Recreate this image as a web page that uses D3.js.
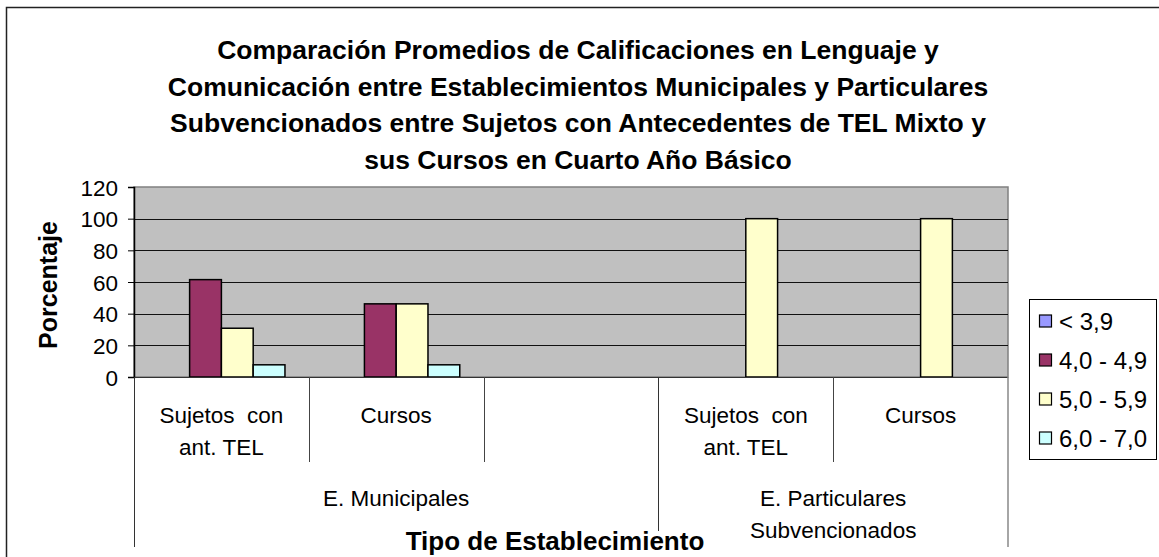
<!DOCTYPE html>
<html>
<head>
<meta charset="utf-8">
<script src="https://cdn.jsdelivr.net/npm/d3@7"></script>
<style>
  body { margin: 0; background: #fff; }
  text { font-family: Arial, "Liberation Sans", sans-serif; fill: #000; }
</style>
</head>
<body>
<svg id="chart" width="1159" height="557"></svg>
<script>
//chart data
var titleLines = ["Comparación Promedios de Calificaciones en Lenguaje y",
  "Comunicación entre Establecimientos Municipales y Particulares",
  "Subvencionados entre Sujetos con Antecedentes de TEL Mixto y",
  "sus Cursos en Cuarto Año Básico"];
//sub categories (one empty slot between the two groups)
var categories = [["Sujetos  con", "ant. TEL"], ["Cursos"], [""], ["Sujetos  con", "ant. TEL"], ["Cursos"]];
//outer categories and how many slots each covers
var groupNames = [["E. Municipales"], ["E. Particulares", "Subvencionados"]];
var groupSpans = [3, 2];
var seriesNames = ["< 3,9", "4,0 - 4,9", "5,0 - 5,9", "6,0 - 7,0"];
var seriesColors = ["#9999FF", "#993366", "#FFFFCC", "#CCFFFF"];
//percent values per series
var valuesLow = [0, 0, null, 0, 0];
var values40 = [61.5, 46.2, null, 0, 0];
var values50 = [30.8, 46.2, null, 100, 100];
var values60 = [7.7, 7.7, null, 0, 0];
var yTicks = [0, 20, 40, 60, 80, 100, 120];

var seriesValues = [valuesLow, values40, values50, values60];

var svg = d3.select("#chart");

//outer chart border (cut off at right / bottom)
svg.append("rect").attr("x", 6.5).attr("y", 7.5).attr("width", 1300).attr("height", 700)
  .attr("fill", "#fff").attr("stroke", "#222").attr("stroke-width", 1.5);

var plotLeft = 134, plotRight = 1008, plotTop = 187, plotBottom = 377;

var y = d3.scaleLinear().domain([0, 120]).range([plotBottom, plotTop]);
var x = d3.scaleBand().domain(d3.range(categories.length)).range([plotLeft, plotRight]).padding(0);
var xInner = d3.scaleBand().domain(d3.range(seriesNames.length)).range([0, x.bandwidth()])
  .paddingInner(0).paddingOuter(0.75);

//title
svg.append("g").selectAll("text").data(titleLines).enter().append("text")
  .attr("x", 578).attr("y", function(d, i) { return 59 + i * 36.7; })
  .attr("text-anchor", "middle").style("font-size", "26.5px").style("font-weight", "bold")
  .text(function(d) { return d; });

//plot area
svg.append("rect").attr("x", plotLeft).attr("y", plotTop).attr("width", plotRight - plotLeft).attr("height", plotBottom - plotTop)
  .attr("fill", "#C0C0C0").attr("stroke", "#808080").attr("stroke-width", 1.5);

//gridlines
svg.append("g").selectAll("line").data(yTicks.filter(function(d) { return d > 0 && d < 120; })).enter().append("line")
  .attr("x1", plotLeft).attr("x2", plotRight)
  .attr("y1", function(d) { return Math.round(y(d)) + 0.5; })
  .attr("y2", function(d) { return Math.round(y(d)) + 0.5; })
  .attr("stroke", "#111").attr("stroke-width", 1);

//bars
var barData = [];
for (var s = 0; s < seriesValues.length; s++) {
  for (var c = 0; c < categories.length; c++) {
    var v = seriesValues[s][c];
    if (v) barData.push({ s: s, c: c, v: v });
  }
}
svg.append("g").selectAll("rect").data(barData).enter().append("rect")
  .attr("x", function(d) { return x(d.c) + xInner(d.s); })
  .attr("y", function(d) { return y(d.v); })
  .attr("width", xInner.bandwidth())
  .attr("height", function(d) { return plotBottom - y(d.v); })
  .attr("fill", function(d) { return seriesColors[d.s]; })
  .attr("stroke", "#000").attr("stroke-width", 1.5);

//y axis
var yAxis = d3.axisLeft(y).tickValues(yTicks).tickSize(6).tickPadding(10);
var yg = svg.append("g").attr("transform", "translate(" + plotLeft + ",0)").call(yAxis);
yg.select(".domain").attr("stroke", "#000").attr("stroke-width", 1.5);
yg.selectAll("line").attr("stroke", "#000");
yg.selectAll("text").style("font-size", "22.5px").attr("dy", "0.36em")
  .style("font-family", "Arial, 'Liberation Sans', sans-serif");

//category axis line
svg.append("line").attr("x1", plotLeft).attr("x2", plotRight).attr("y1", plotBottom + 0.5).attr("y2", plotBottom + 0.5)
  .attr("stroke", "#333").attr("stroke-width", 1);

//inner separators
var innerSeps = [1, 2, 4];
svg.append("g").selectAll("line").data(innerSeps).enter().append("line")
  .attr("x1", function(d) { return Math.round(x(d)) + 0.5; })
  .attr("x2", function(d) { return Math.round(x(d)) + 0.5; })
  .attr("y1", plotBottom).attr("y2", 462).attr("stroke", "#444");

//outer separators
var groupEdges = [0];
for (var g = 0; g < groupSpans.length; g++) groupEdges.push(groupEdges[g] + groupSpans[g]);
svg.append("g").selectAll("line").data(groupEdges).enter().append("line")
  .attr("x1", function(d) { return d < categories.length ? Math.round(x(d)) + 0.5 : plotRight; })
  .attr("x2", function(d) { return d < categories.length ? Math.round(x(d)) + 0.5 : plotRight; })
  .attr("y1", plotBottom).attr("y2", 547)
  .attr("stroke", function(d) { return d < categories.length ? "#333" : "#888"; })
  .attr("stroke-width", function(d) { return d < categories.length ? 1 : 1.5; });

//category labels
var catG = svg.append("g").selectAll("text").data(categories).enter().append("text")
  .attr("text-anchor", "middle").style("font-size", "22.5px")
  .attr("transform", function(d, i) { return "translate(" + (x(i) + x.bandwidth() / 2) + ",0)"; });
catG.selectAll("tspan").data(function(d) { return d; }).enter().append("tspan")
  .attr("x", 0).attr("y", function(d, i) { return 423 + i * 32; })
  .style("white-space", "pre").attr("xml:space", "preserve")
  .text(function(d) { return d; });

//group labels
var grpG = svg.append("g").selectAll("text").data(groupNames).enter().append("text")
  .attr("text-anchor", "middle").style("font-size", "22.5px")
  .attr("transform", function(d, i) {
    var x0 = x(groupEdges[i]);
    var x1 = groupEdges[i + 1] < categories.length ? x(groupEdges[i + 1]) : plotRight;
    return "translate(" + ((x0 + x1) / 2) + ",0)";
  });
grpG.selectAll("tspan").data(function(d) { return d; }).enter().append("tspan")
  .attr("x", 0).attr("y", function(d, i) { return 506 + i * 32; })
  .text(function(d) { return d; });

//x axis title with white background
var xt = svg.append("text").attr("x", 555).attr("y", 550).attr("text-anchor", "middle")
  .style("font-size", "26px").style("font-weight", "bold").text("Tipo de Establecimiento");
var bb = xt.node().getBBox();
svg.insert("rect", function() { return xt.node(); })
  .attr("x", bb.x).attr("y", bb.y + 5).attr("width", bb.width).attr("height", bb.height)
  .attr("fill", "#fff");

//y axis title
svg.append("text").attr("transform", "translate(57,285) rotate(-90)").attr("text-anchor", "middle")
  .style("font-size", "25px").style("font-weight", "bold").text("Porcentaje");

//legend
var legend = svg.append("g");
legend.append("rect").attr("x", 1029.5).attr("y", 299.5).attr("width", 127).attr("height", 160)
  .attr("fill", "#fff").attr("stroke", "#000");
var item = legend.selectAll("g").data(seriesNames).enter().append("g")
  .attr("transform", function(d, i) { return "translate(1039," + (321 + i * 39) + ")"; });
item.append("rect").attr("x", 0.5).attr("y", -6).attr("width", 12).attr("height", 12)
  .attr("fill", function(d, i) { return seriesColors[i]; }).attr("stroke", "#000").attr("stroke-width", 1.2);
item.append("text").attr("x", 20).attr("y", 0).attr("dy", "0.36em").style("font-size", "24px")
  .text(function(d) { return d; });
</script>
</body>
</html>
